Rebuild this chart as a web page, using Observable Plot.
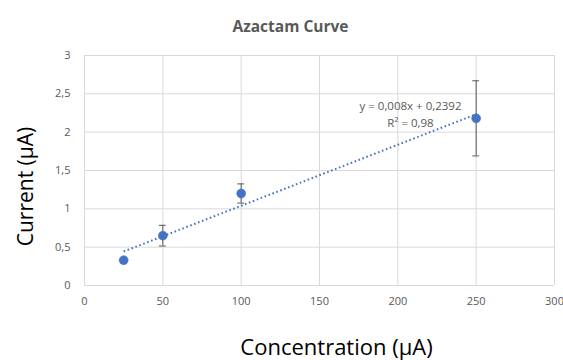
<!DOCTYPE html>
<html>
<head>
<meta charset="utf-8">
<script src="https://cdn.jsdelivr.net/npm/d3@7"></script>
<script src="https://cdn.jsdelivr.net/npm/@observablehq/plot@0.6"></script>
<style>
  body { margin: 0; background: #fff; }
  svg { font-family: "Open Sans", "Noto Sans", sans-serif; }
</style>
</head>
<body>
<div id="chart"></div>
<script>
const concentrations = [25, 50, 100, 250];
const currents = [0.33, 0.65, 1.2, 2.18];
const errors = [0, 0.135, 0.125, 0.49];
const xTicks = [0, 50, 100, 150, 200, 250, 300];
const yTicks = [0, 0.5, 1, 1.5, 2, 2.5, 3];
const title = "Azactam Curve";
const xLabel = "Concentration (μA)";
const yLabel = "Current (μA)";
const equation = "y = 0,008x + 0,2392";
const rSquared = "R² = 0,98";

const data = concentrations.map((x, i) => ({x, y: currents[i], e: errors[i]}));
const bars = data.filter(d => d.e > 0);
const fmt = d => String(d).replace(".", ",");
const grey = "#595959";

const chart = Plot.plot({
  width: 563,
  height: 360,
  marginLeft: 84,
  marginRight: 9,
  marginTop: 55,
  marginBottom: 75,
  style: {fontSize: "11px", color: grey, background: "#fff"},
  x: {domain: [0, 300], ticks: xTicks, tickFormat: fmt, label: null, tickSize: 0, tickPadding: 12},
  y: {domain: [0, 3], ticks: yTicks, tickFormat: fmt, label: null, tickSize: 0, tickPadding: 14},
  marks: [
    Plot.gridX(xTicks, {stroke: "#d9d9d9", strokeOpacity: 1, strokeWidth: 1}),
    Plot.gridY(yTicks, {stroke: "#d9d9d9", strokeOpacity: 1, strokeWidth: 1}),
    Plot.axisX({ticks: xTicks, tickFormat: fmt, tickSize: 0, tickPadding: 12, fill: grey, fontSize: 11}),
    Plot.axisY({ticks: yTicks, tickFormat: fmt, tickSize: 0, tickPadding: 14, fill: grey, fontSize: 11}),
    Plot.linearRegressionY(data, {x: "x", y: "y", ci: 0, stroke: "#4472C4", strokeWidth: 2, strokeDasharray: "1.6,2.6", strokeLinecap: "butt"}),
    Plot.ruleX(bars, {x: "x", y1: d => d.y - d.e, y2: d => d.y + d.e, stroke: grey, strokeWidth: 1}),
    Plot.ruleY(bars, {y: d => d.y + d.e, x1: d => d.x - 2.2, x2: d => d.x + 2.2, stroke: grey, strokeWidth: 1}),
    Plot.ruleY(bars, {y: d => d.y - d.e, x1: d => d.x - 2.2, x2: d => d.x + 2.2, stroke: grey, strokeWidth: 1}),
    Plot.dot(data, {x: "x", y: "y", r: 4.5, fill: "#4472C4", stroke: "#4472C4", strokeWidth: 0.5}),
    Plot.text([equation], {text: d => d, frameAnchor: "top-left", dx: 326, dy: 46, fill: grey, fontSize: 11.5, textAnchor: "middle"}),
    Plot.text([rSquared], {text: d => d, frameAnchor: "top-left", dx: 326, dy: 63, fill: grey, fontSize: 11.5, textAnchor: "middle"}),
    Plot.text([title], {text: d => d, frameAnchor: "top", dx: -29, dy: -35, fill: grey, fontSize: 15.5, fontWeight: "bold"}),
    Plot.text([xLabel], {text: d => d, frameAnchor: "bottom", dx: 17, dy: 69, fill: "#000", fontSize: 22}),
    Plot.text([yLabel], {text: d => d, frameAnchor: "left", textAnchor: "middle", dx: -58, dy: 16, rotate: -90, fill: "#000", fontSize: 21})
  ]
});
document.getElementById("chart").appendChild(chart);
</script>
</body>
</html>
